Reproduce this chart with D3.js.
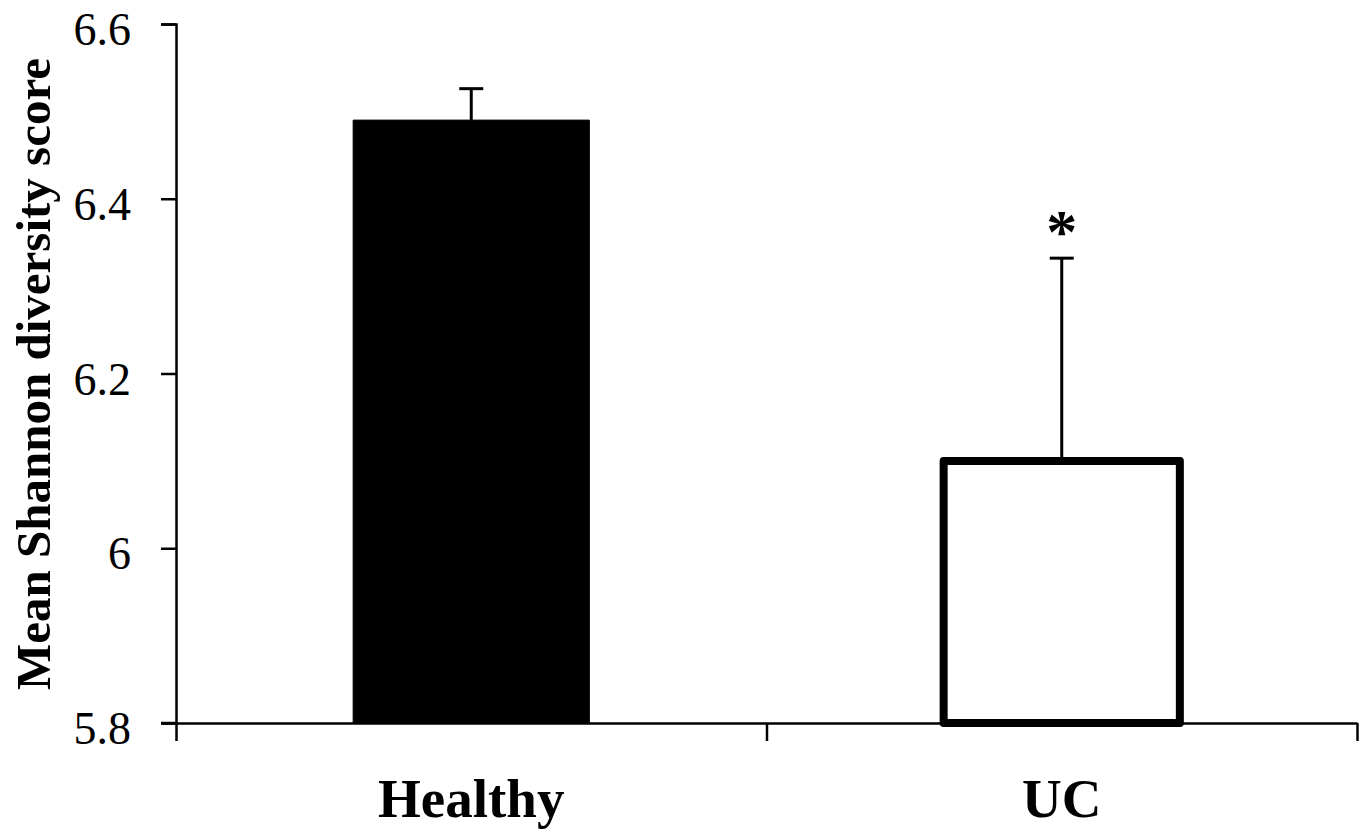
<!DOCTYPE html>
<html>
<head>
<meta charset="utf-8">
<script src="https://cdn.jsdelivr.net/npm/d3@7"></script>
<style>
  html, body { margin: 0; padding: 0; background: #fff; }
  svg { display: block; }
</style>
</head>
<body>
<svg id="chart" width="1368" height="831"></svg>
<script>
// Groups, mean Shannon diversity and standard error
const groups = ["Healthy", "UC"];
const means = [6.49, 6.10];
const errors = [0.036, 0.232];
const significant = [false, true];
const yTicks = [5.8, 6.0, 6.2, 6.4, 6.6];
const yTickLabels = ["5.8", "6", "6.2", "6.4", "6.6"];

const svg = d3.select("#chart");
const margin = { left: 176, top: 24, right: 11, bottom: 108 };
const W = 1368, H = 831;
const x0 = margin.left, x1 = W - margin.right;
const y0 = H - margin.bottom, y1 = margin.top;

const x = d3.scaleBand().domain(groups).range([x0, x1])
  .paddingInner(0.6).paddingOuter(0.3);
const y = d3.scaleLinear().domain([5.8, 6.6]).range([y0, y1]);

const serif = "'Liberation Serif', 'Times New Roman', Times, serif";

const bars = groups.map((g, i) => ({ g, v: means[i], e: errors[i], s: significant[i], i }));

// Error bars (upper half only)
const eb = svg.append("g").attr("stroke", "#000").attr("stroke-width", 3);
bars.forEach(d => {
  const cx = x(d.g) + x.bandwidth() / 2;
  eb.append("line").attr("x1", cx).attr("x2", cx)
    .attr("y1", y(d.v)).attr("y2", y(d.v + d.e));
  eb.append("line").attr("x1", cx - 12).attr("x2", cx + 12)
    .attr("y1", y(d.v + d.e)).attr("y2", y(d.v + d.e));
});

// Bars
svg.append("g").selectAll("rect").data(bars).join("rect")
  .attr("x", d => x(d.g))
  .attr("width", x.bandwidth())
  .attr("y", d => y(d.v))
  .attr("height", d => y(5.8) - y(d.v))
  .attr("fill", d => d.i === 0 ? "#000" : "#fff")
  .attr("stroke", "#000")
  .attr("stroke-width", d => d.i === 0 ? 1 : 8)
  .attr("stroke-linejoin", "round");

// Significance marker
svg.append("g").selectAll("text").data(bars.filter(d => d.s)).join("text")
  .attr("x", d => x(d.g) + x.bandwidth() / 2)
  .attr("y", d => y(d.v + d.e) - 6)
  .attr("text-anchor", "middle")
  .attr("font-family", serif)
  .attr("font-weight", "bold")
  .attr("font-size", 62)
  .text("*");

// Y axis
const yAxis = d3.axisLeft(y).tickValues(yTicks)
  .tickFormat((d, i) => yTickLabels[i]).tickSize(15).tickPadding(30);
const gy = svg.append("g").attr("transform", `translate(${x0},0)`).call(yAxis);
gy.select(".domain").attr("stroke-width", 2.5);
gy.selectAll(".tick line").attr("stroke-width", 2.5);
gy.selectAll(".tick text")
  .attr("font-family", serif).attr("font-size", 46).attr("fill", "#000")
  .attr("dy", "0.45em");

// X axis with ticks at the category boundaries
const xl = d3.scaleLinear().domain([0, 2]).range([x0, x1]);
const xAxis = d3.axisBottom(xl).tickValues([0, 1, 2]).tickFormat("").tickSize(18).tickSizeOuter(0);
const gx = svg.append("g").attr("transform", `translate(0,${y0})`).call(xAxis);
gx.select(".domain").attr("stroke-width", 2.5);
gx.selectAll(".tick line").attr("stroke-width", 2.5);
// extend the baseline slightly left to meet the y tick
svg.append("line").attr("x1", x0 - 15).attr("x2", x0).attr("y1", y0).attr("y2", y0)
  .attr("stroke", "#000").attr("stroke-width", 2.5);

// Category labels
svg.append("g").selectAll("text").data(groups).join("text")
  .attr("x", d => x(d) + x.bandwidth() / 2)
  .attr("y", 817)
  .attr("text-anchor", "middle")
  .attr("font-family", serif)
  .attr("font-weight", "bold")
  .attr("font-size", 55)
  .text(d => d);

// Y axis title
svg.append("text")
  .attr("transform", `translate(50,${(58 + 690) / 2}) rotate(-90)`)
  .attr("text-anchor", "middle")
  .attr("font-family", serif)
  .attr("font-weight", "bold")
  .attr("font-size", 49)
  .text("Mean Shannon diversity score");
</script>
</body>
</html>
